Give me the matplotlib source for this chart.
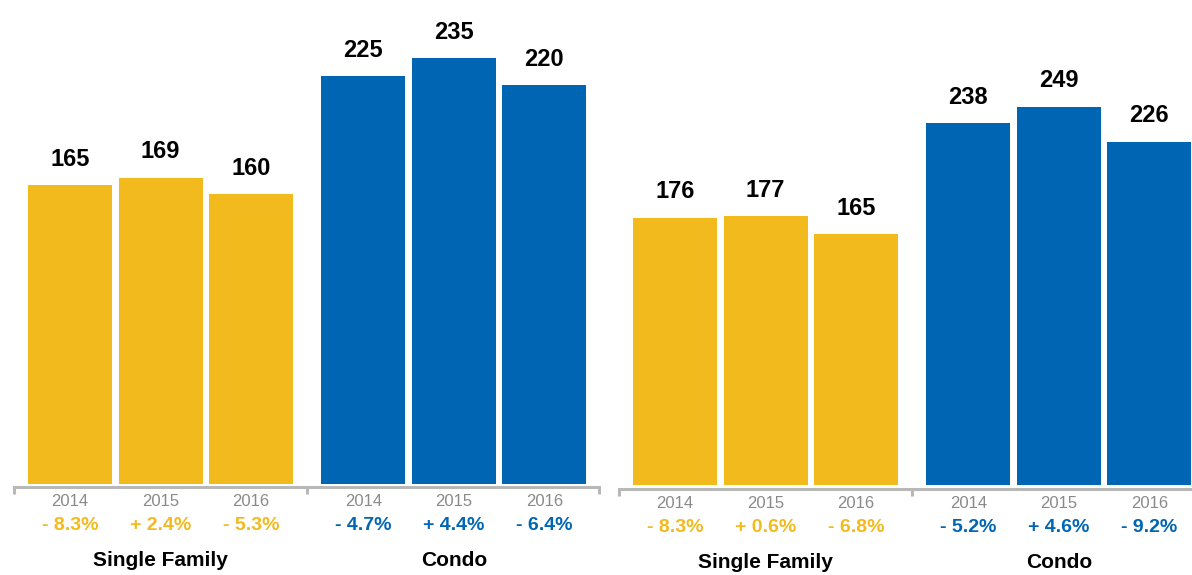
import matplotlib.pyplot as plt
from matplotlib.transforms import blended_transform_factory

plt.rcParams['font.family'] = ['Liberation Sans', 'DejaVu Sans']

# dane
years = ["2014", "2015", "2016"]
groups = ["Single Family", "Condo"]

left_single = [165, 169, 160]
left_condo = [225, 235, 220]
left_single_chg = ["- 8.3%", "+ 2.4%", "- 5.3%"]
left_condo_chg = ["- 4.7%", "+ 4.4%", "- 6.4%"]

right_single = [176, 177, 165]
right_condo = [238, 249, 226]
right_single_chg = ["- 8.3%", "+ 0.6%", "- 6.8%"]
right_condo_chg = ["- 5.2%", "+ 4.6%", "- 9.2%"]

YELLOW = "#F3BA1E"
BLUE = "#0066B3"
GRAY_TXT = "#8a8a8a"
GRAY_AX = "#b8b8b8"

W, H = 1192, 575
fig = plt.figure(figsize=(W / 100, H / 100), dpi=100)

pos_single = [0, 1, 2]
pos_condo = [3.24, 4.24, 5.24]
bar_w = 0.928
xlim = (-0.62, 5.845)
unit_px = 90.5


def fy(px):
    return 1 - px / H


def panel(x0_px, base_px, ymax, line_off, single, condo, s_chg, c_chg,
          year_y, chg_y, cat_y):
    width_px = (xlim[1] - xlim[0]) * unit_px
    ax = fig.add_axes([x0_px / W, fy(base_px), width_px / W, base_px / H])
    ax.set_xlim(*xlim)
    ax.set_ylim(0, ymax)

    ax.bar(pos_single, single, width=bar_w, color=YELLOW)
    ax.bar(pos_condo, condo, width=bar_w, color=BLUE)

    for x, v in zip(pos_single + pos_condo, single + condo):
        ax.annotate(str(v), (x, v), xytext=(0, 14), textcoords="offset points",
                    ha="center", va="baseline", fontsize=17,
                    fontweight="bold", color="black")

    for s in ["top", "right", "left"]:
        ax.spines[s].set_visible(False)
    ax.spines["bottom"].set_position(("outward", line_off))
    ax.spines["bottom"].set_color(GRAY_AX)
    ax.spines["bottom"].set_linewidth(2.2)
    ax.set_yticks([])
    mid = (pos_single[-1] + pos_condo[0]) / 2
    ax.set_xticks([xlim[0], mid, xlim[1]])
    ax.set_xticklabels([])
    ax.tick_params(axis="x", direction="out", length=5, width=2.2,
                   color=GRAY_AX)

    tr = blended_transform_factory(ax.transData, fig.transFigure)
    for xs, chg, col in [(pos_single, s_chg, YELLOW), (pos_condo, c_chg, BLUE)]:
        for x, yr, c in zip(xs, years, chg):
            ax.text(x, fy(year_y), yr, transform=tr, ha="center", va="center",
                    fontsize=12, color=GRAY_TXT)
            ax.text(x, fy(chg_y), c, transform=tr, ha="center", va="center",
                    fontsize=14, fontweight="bold", color=col)
    for xs, name in zip([pos_single, pos_condo], groups):
        ax.text(xs[1], fy(cat_y), name, transform=tr, ha="center",
                va="center", fontsize=15, fontweight="bold", color="black")
    return ax


panel(14, 484, 267.1, 1.8, left_single, left_condo,
      left_single_chg, left_condo_chg, 501, 525, 561)
panel(619, 485, 319.3, 2.9, right_single, right_condo,
      right_single_chg, right_condo_chg, 503, 528, 562)

fig.savefig("out.png", dpi=100)
